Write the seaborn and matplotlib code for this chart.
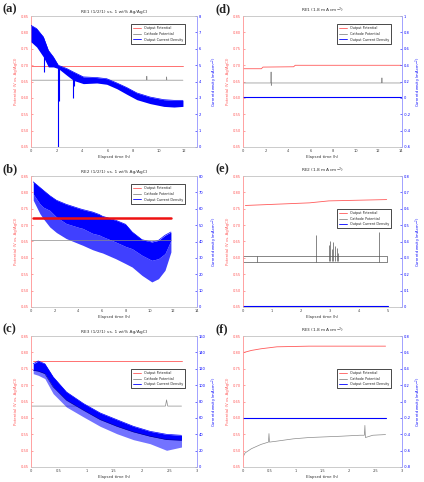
import numpy as np
import pandas as pd
import matplotlib
matplotlib.use("Agg")
import matplotlib.pyplot as plt
from matplotlib.lines import Line2D
import seaborn as sns

sns.set_theme(style="white")
plt.rcParams['font.family'] = ['DejaVu Sans']

RED = '#ff5a5a'
BLUE = '#0000ff'
GRAY = '#8a8a8a'
DARK = '#555555'

panel_labels = ['(a)', '(b)', '(c)', '(d)', '(e)', '(f)']
titles = ['RE1 (1/2/1) vs. 1 wt% Ag/AgCl', 'RE2 (1/2/1) vs. 1 wt% Ag/AgCl',
          'RE3 (1/2/1) vs. 1 wt% Ag/AgCl', 'RE1 (1.8 mA cm$^{-2}$)',
          'RE2 (1.8 mA cm$^{-2}$)', 'RE3 (1.8 mA cm$^{-2}$)']
legend_labels = ['Output Potential', 'Cathode Potential', 'Output Current Density']
left_ticks = [0.45, 0.50, 0.55, 0.60, 0.65, 0.70, 0.75, 0.80, 0.85]

# ---------- (a) ----------
a_t = [0, 0.44, 0.97, 1.36, 1.75, 2.14, 2.8, 3.32, 4.1, 5.15, 5.93, 6.72, 7.5, 8.29, 9.33, 10.4, 11.2, 11.9]
a_cd_hi = [7.43, 7.23, 6.72, 5.9, 5.5, 4.99, 4.79, 4.58, 4.28, 4.24, 4.17, 3.91, 3.63, 3.30, 3.05, 2.89, 2.85, 2.85]
a_cd_lo = [6.42, 6.11, 5.50, 4.89, 4.89, 4.79, 4.38, 4.07, 3.87, 3.91, 3.83, 3.56, 3.22, 2.89, 2.65, 2.48, 2.44, 2.48]
a_spk_t = [1.0, 2.14, 2.22, 3.32, 3.4]
a_spk_top = [5.5, 4.9, 4.85, 4.3, 4.25]
a_spk_bot = [4.6, 0.0, 2.8, 3.0, 3.7]
a_pot_t = [0, 11.9]
a_pot = [0.697, 0.697]
a_cat_t = [0, 9.05, 9.07, 9.09, 10.6, 10.62, 10.64, 11.9]
a_cat = [0.654, 0.654, 0.666, 0.654, 0.654, 0.664, 0.654, 0.654]

# ---------- (b) ----------
b_t = [0.19, 0.75, 1.03, 1.58, 2.14, 2.97, 4.08, 4.36, 5.19, 5.75, 6.03, 7.14, 7.97, 8.53, 9.36, 10.19, 10.75, 11.3, 11.8]
b_cd_hi = [76.4, 73.0, 71.3, 68.0, 65.2, 62.7, 60.1, 59.5, 58.0, 56.5, 55.4, 53.0, 50.5, 45.8, 41.1, 39.7, 40.7, 43.8, 45.8]
b_cd_mid = [69.0, 63.0, 61.0, 59.0, 55.0, 51.0, 48.5, 48.0, 45.0, 44.0, 43.0, 39.7, 37.0, 35.6, 31.6, 28.5, 29.5, 32.6, 40.7]
b_cd_lo = [65.2, 57.0, 54.0, 48.9, 45.5, 41.8, 38.5, 37.7, 35.0, 33.6, 33.0, 29.5, 26.5, 24.4, 19.3, 15.3, 17.3, 22.4, 33.6]
b_pot_t = [0.19, 11.8]
b_pot = [0.723, 0.723]
b_cat_t = [0, 11.8]
b_cat = [0.654, 0.654]

# ---------- (c) ----------
c_t = [0.04, 0.13, 0.25, 0.40, 0.64, 0.95, 1.25, 1.55, 1.85, 2.15, 2.45, 2.72]
c_cd_hi = [126, 129.5, 126, 110, 91.6, 77.4, 66, 57.8, 49.7, 43.6, 39.9, 38.7]
c_cd_mid = [118, 117, 114, 97.8, 81.5, 69.2, 57.8, 49.7, 42.8, 37.5, 33.4, 32.6]
c_cd_lo = [114, 112, 108, 89.6, 73.3, 61.1, 49.7, 40.7, 33.4, 28.5, 20.4, 24.4]
c_pot_t = [0.04, 2.72]
c_pot = [0.774, 0.774]
c_cat_t = [0, 2.43, 2.45, 2.47, 2.72]
c_cat = [0.636, 0.636, 0.655, 0.636, 0.636]

# ---------- (d) ----------
d_pot_t = [0, 1.63, 1.77, 4.49, 4.63, 14.0]
d_pot = [0.689, 0.689, 0.694, 0.695, 0.6995, 0.6995]
d_cat_t = [0, 2.47, 2.49, 2.51, 2.53, 12.3, 12.32, 12.34, 14.0]
d_cat = [0.6455, 0.6455, 0.679, 0.638, 0.6455, 0.6455, 0.661, 0.6455, 0.6455]
d_cd_t = [0, 14.0]
d_cd = [0.01, 0.01]

# ---------- (e) ----------
e_pot_t = [0.08, 2.3, 2.97, 4.97]
e_pot = [0.760, 0.768, 0.774, 0.778]
e_cat_t = [0, 4.97]
e_cat_hi = [0.606, 0.606]
e_cat_lo = [0.587, 0.587]
e_spk_t = [0.0, 0.47, 2.52, 2.97, 3.02, 3.08, 3.12, 3.18, 3.25, 3.3, 4.72, 4.97]
e_spk_top = [0.606, 0.606, 0.669, 0.640, 0.653, 0.628, 0.648, 0.635, 0.630, 0.615, 0.679, 0.606]
e_spk_bot = [0.587, 0.587, 0.587, 0.590, 0.590, 0.590, 0.590, 0.590, 0.590, 0.590, 0.587, 0.587]
e_cd_t = [0, 5.0]
e_cd = [0.004, 0.004]

# ---------- (f) ----------
f_pot_t = [0, 0.16, 0.34, 0.64, 1.25, 2.69]
f_pot = [0.799, 0.806, 0.811, 0.817, 0.819, 0.819]
f_cat_t = [0, 0.04, 0.16, 0.34, 0.48, 0.49, 0.50, 0.64, 0.95, 1.25, 1.55, 1.85, 2.21, 2.29, 2.30, 2.31, 2.45, 2.69]
f_cat = [0.4805, 0.493, 0.506, 0.519, 0.526, 0.552, 0.526, 0.529, 0.536, 0.540, 0.542, 0.544, 0.547, 0.547, 0.577, 0.540, 0.547, 0.549]
f_cd_t = [0, 2.69]
f_cd = [-0.2, -0.2]

right_ticks = {
    'a': [0, 1, 2, 3, 4, 5, 6, 7, 8],
    'b': [0, 10, 20, 30, 40, 50, 60, 70, 80],
    'c': [0, 20, 40, 60, 80, 100, 120, 140, 160],
    'd': [-0.6, -0.4, -0.2, 0, 0.2, 0.4, 0.6, 0.8, 1.0],
    'e': [0, 0.1, 0.2, 0.3, 0.4, 0.5, 0.6, 0.7, 0.8],
    'f': [-0.8, -0.6, -0.4, -0.2, 0, 0.2, 0.4, 0.6, 0.8],
}
x_setup = {
    'a': ((0, 13.0), [0, 2, 4, 6, 8, 10, 12]),
    'b': ((0, 13.8), [0, 2, 4, 6, 8, 10, 12, 14]),
    'c': ((0, 3.0), [0, 0.5, 1, 1.5, 2, 2.5, 3]),
    'd': ((0, 14.1), [0, 2, 4, 6, 8, 10, 12, 14]),
    'e': ((0, 5.5), [0, 1, 2, 3, 4, 5]),
    'f': ((0, 3.0), [0, 0.5, 1, 1.5, 2, 2.5, 3]),
}

W, H = 424, 482
fig = plt.figure(figsize=(W / 100, H / 100), dpi=100)

col_x = [31, 243]
col_w = [166, 159]
row_top = [16, 176, 336]
ax_h = 131

keys = ['a', 'b', 'c', 'd', 'e', 'f']
axes = {}
for i, k in enumerate(keys):
    col = i // 3
    row = i % 3
    x0 = col_x[col]
    y0 = row_top[row]
    ax = fig.add_axes([x0 / W, 1 - (y0 + ax_h) / H, col_w[col] / W, ax_h / H])
    ax2 = ax.twinx()
    axes[k] = (ax, ax2)

def line(ax, t, y, color, lw=0.6, zorder=2):
    sns.lineplot(x=t, y=y, ax=ax, color=color, lw=lw, sort=False,
                 estimator=None, zorder=zorder, legend=False)

def band(ax2, t, hi, lo, mid=None, alpha=0.55):
    if mid is None:
        ax2.fill_between(t, lo, hi, color=BLUE, lw=0, zorder=3)
    else:
        ax2.fill_between(t, mid, hi, color=BLUE, lw=0, zorder=3)
        ax2.fill_between(t, lo, mid, color=BLUE, alpha=alpha, lw=0, zorder=3)
    line(ax2, t, hi, BLUE, lw=0.5, zorder=3)

# (a)
ax, ax2 = axes['a']
line(ax, a_pot_t, a_pot, RED)
line(ax, a_cat_t, a_cat, GRAY, lw=0.5)
band(ax2, a_t, a_cd_hi, a_cd_lo)
ax2.vlines(a_spk_t, a_spk_bot, a_spk_top, color=BLUE, lw=0.8, zorder=3)

# (b)
ax, ax2 = axes['b']
line(ax, b_pot_t, b_pot, '#ee1111', lw=1.8, zorder=5)
line(ax, b_cat_t, b_cat, GRAY, lw=0.5)
band(ax2, b_t, b_cd_hi, b_cd_lo, b_cd_mid, alpha=0.75)
ax.set_zorder(ax2.get_zorder() + 1)
ax.patch.set_visible(False)

# (c)
ax, ax2 = axes['c']
line(ax, c_pot_t, c_pot, RED)
line(ax, c_cat_t, c_cat, GRAY, lw=0.5)
band(ax2, c_t, c_cd_hi, c_cd_lo, c_cd_mid)
line(ax2, c_t, c_cd_mid, '#000088', lw=0.4, zorder=4)

# (d)
ax, ax2 = axes['d']
line(ax, d_pot_t, d_pot, RED)
line(ax, d_cat_t, d_cat, GRAY, lw=0.5)
line(ax2, d_cd_t, d_cd, BLUE, lw=0.8)

# (e)
ax, ax2 = axes['e']
line(ax, e_pot_t, e_pot, RED)
line(ax, e_cat_t, e_cat_hi, DARK, lw=0.5)
line(ax, e_cat_t, e_cat_lo, DARK, lw=0.5)
ax.vlines(e_spk_t, e_spk_bot, e_spk_top, color=DARK, lw=0.5)
line(ax2, e_cd_t, e_cd, BLUE, lw=0.8)

# (f)
ax, ax2 = axes['f']
line(ax, f_pot_t, f_pot, RED)
line(ax, f_cat_t, f_cat, GRAY, lw=0.5)
line(ax2, f_cd_t, f_cd, BLUE, lw=0.8)

legend_anchor = {'a': (0.94, 0.95), 'b': (0.94, 0.95), 'd': (0.94, 0.95),
                 'c': (0.94, 0.76), 'e': (0.94, 0.76), 'f': (0.94, 0.76)}

for i, k in enumerate(keys):
    ax, ax2 = axes[k]
    ax.set_ylim(left_ticks[0], left_ticks[-1])
    ax.set_yticks(left_ticks)
    ax.set_yticklabels([f'{v:.2f}' for v in left_ticks])
    rt = right_ticks[k]
    ax2.set_ylim(rt[0], rt[-1])
    ax2.set_yticks(rt)
    ax2.set_yticklabels([f'{v:g}' for v in rt])
    xl, xt = x_setup[k]
    ax.set_xlim(*xl)
    ax.set_xticks(xt)
    ax.set_xticklabels([f'{v:g}' for v in xt])
    ax.tick_params(axis='y', colors=RED, labelsize=2.6, length=1.5, width=0.4, direction='in', pad=1.5)
    ax.tick_params(axis='x', colors='#444444', labelsize=2.6, length=1.5, width=0.4, direction='in', pad=1.5)
    ax2.tick_params(axis='y', colors=BLUE, labelsize=2.6, length=1.5, width=0.4, direction='in', pad=1.5)
    for a in (ax, ax2):
        for s in a.spines.values():
            s.set_linewidth(0.5)
            s.set_color('#c8c8c8')
        a.spines['left'].set_color('#ff9a9a')
        a.spines['right'].set_color('#9a9aff')
    ax.set_xlabel('Elapsed time (h)', fontsize=2.8, labelpad=1.5, color='#333333')
    ax.set_ylabel('Potential (V vs. Ag/AgCl)', fontsize=2.8, labelpad=2, color=RED)
    ax2.set_ylabel('Current density (mA cm$^{-2}$)', fontsize=2.6, color=BLUE)
    ax2.yaxis.set_label_coords(1.075, 0.5)
    ax.set_title(titles[i], fontsize=3.2, pad=2.5, color='#333333')
    ax.text(-0.17, 1.055, panel_labels[i], transform=ax.transAxes, fontsize=9,
            fontweight='bold', family='Liberation Serif', ha='left', va='center', color='#222222')
    handles = [Line2D([0], [0], color=RED, lw=0.6),
               Line2D([0], [0], color=GRAY, lw=0.6),
               Line2D([0], [0], color=BLUE, lw=0.6)]
    top = ax if k == 'b' else ax2
    leg = top.legend(handles, legend_labels, loc='upper right', bbox_to_anchor=legend_anchor[k],
                     fontsize=2.4, frameon=True, fancybox=False, handlelength=2.5,
                     borderpad=0.6, labelspacing=0.5, framealpha=1)
    leg.get_frame().set_edgecolor('black')
    leg.get_frame().set_linewidth(0.5)
    leg.set_zorder(10)

fig.savefig('out.png', dpi=100)
